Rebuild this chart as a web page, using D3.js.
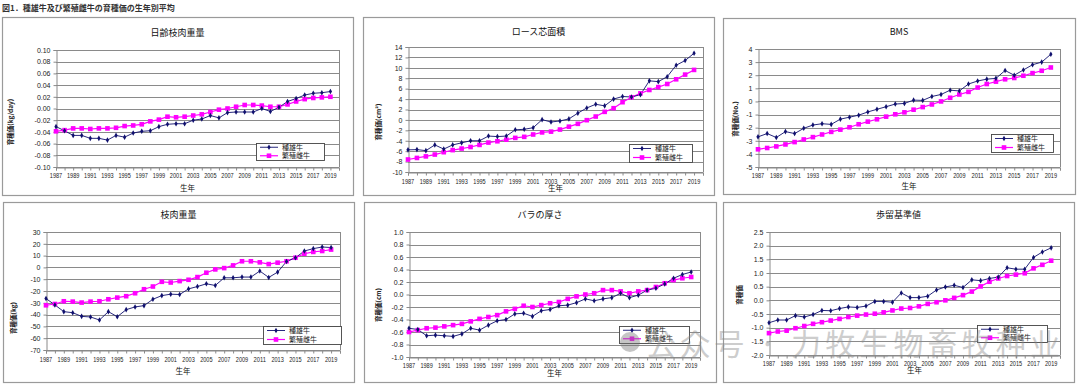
<!DOCTYPE html>
<html><head><meta charset="utf-8">
<script src="https://cdn.jsdelivr.net/npm/d3@7"></script>
<style>
html,body{margin:0;padding:0;background:#fff;}
svg text{font-family:"Liberation Sans","Noto Sans CJK JP",Arial,sans-serif;}
.jp{font-family:"Noto Sans CJK JP","Liberation Sans",sans-serif;}
</style></head>
<body>
<svg id="chart" width="1080" height="385"></svg>
<script>
// ---- data ----
const years = [1987,1988,1989,1990,1991,1992,1993,1994,1995,1996,1997,1998,1999,2000,2001,2002,2003,2004,2005,2006,2007,2008,2009,2010,2011,2012,2013,2014,2015,2016,2017,2018,2019];
const yearLabels = ["1987","1989","1991","1993","1995","1997","1999","2001","2003","2005","2007","2009","2011","2013","2015","2017","2019"];
const seriesNames = ["種雄牛","繁殖雌牛"];
const panelTitles = ["日齢枝肉重量","ロース芯面積","BMS","枝肉重量","バラの厚さ","歩留基準値"];
const yAxisTitles = ["育種価(kg/day)","育種価(cm²)","育種価(No.)","育種価(kg)","育種価(cm)","育種価"];
const xAxisTitle = "生年";
const figureCaption = "図1．種雄牛及び繁殖雌牛の育種価の生年別平均";

const dailyGainSire = [-0.031,-0.038,-0.046,-0.046,-0.051,-0.051,-0.054,-0.046,-0.049,-0.042,-0.039,-0.038,-0.031,-0.027,-0.026,-0.026,-0.020,-0.018,-0.012,-0.016,-0.007,-0.006,-0.006,-0.006,0.000,-0.005,0.002,0.012,0.017,0.023,0.026,0.027,0.029];
const dailyGainDam  = [-0.039,-0.037,-0.034,-0.034,-0.035,-0.034,-0.034,-0.033,-0.030,-0.029,-0.027,-0.022,-0.019,-0.014,-0.015,-0.014,-0.012,-0.010,-0.006,-0.002,0.000,0.003,0.006,0.006,0.005,0.003,0.003,0.007,0.012,0.016,0.018,0.019,0.020];
const ribeyeSire = [-5.75,-5.7,-5.9,-4.8,-5.6,-4.8,-4.4,-4.0,-4.0,-3.1,-3.2,-3.1,-1.9,-1.8,-1.5,0.05,-0.4,-0.2,0.2,1.3,2.3,3.0,2.7,4.0,4.5,4.4,4.85,7.5,7.35,8.3,10.5,11.4,12.8];
const ribeyeDam  = [-7.6,-7.3,-7.0,-6.65,-6.2,-5.8,-5.5,-5.2,-4.8,-4.35,-4.1,-3.8,-3.45,-3.25,-2.8,-2.4,-2.25,-1.85,-1.3,-0.75,-0.05,0.65,1.55,2.25,3.4,4.35,5.1,5.75,6.3,6.9,7.8,8.7,9.6];
const bmsSire = [-2.7,-2.45,-2.75,-2.3,-2.45,-2.05,-1.8,-1.7,-1.75,-1.35,-1.2,-1.05,-0.8,-0.6,-0.4,-0.2,-0.15,0.1,0.08,0.38,0.53,0.86,0.8,1.33,1.56,1.7,1.76,2.36,2.0,2.4,2.8,3.0,3.6];
const bmsDam  = [-3.65,-3.55,-3.43,-3.28,-3.1,-2.9,-2.72,-2.52,-2.32,-2.15,-1.97,-1.74,-1.54,-1.36,-1.16,-0.98,-0.83,-0.63,-0.43,-0.23,0.0,0.28,0.53,0.73,1.06,1.33,1.51,1.69,1.79,1.96,2.16,2.34,2.59];
const carcassSire = [-26.4,-31.8,-37.5,-38.4,-41.5,-42,-44.6,-37.5,-41.8,-35.8,-33.5,-32.4,-27,-23.9,-22.7,-23,-18.2,-16.2,-13.9,-15.3,-8.8,-8.8,-8.2,-8.2,-3.1,-8.5,-4,5.0,8.2,13.9,15.9,17.3,16.8];
const carcassDam  = [-32.1,-31,-28.7,-29,-29.8,-29,-28.7,-27,-25.6,-24.4,-21.9,-18.5,-16.2,-12.2,-12.8,-11.6,-10.5,-8.2,-4.5,-1.7,-0.6,1.7,5.2,5.2,4.3,2.8,4,5.2,8.2,11.6,13.1,13.9,15.1];
const ribSire = [-0.54,-0.56,-0.66,-0.65,-0.66,-0.67,-0.63,-0.54,-0.57,-0.49,-0.42,-0.40,-0.31,-0.30,-0.35,-0.26,-0.24,-0.18,-0.17,-0.13,-0.07,-0.10,-0.07,-0.05,0.02,-0.05,-0.01,0.07,0.10,0.17,0.26,0.32,0.36];
const ribDam  = [-0.60,-0.57,-0.54,-0.53,-0.51,-0.49,-0.47,-0.43,-0.39,-0.36,-0.33,-0.27,-0.23,-0.18,-0.20,-0.17,-0.14,-0.12,-0.07,-0.03,0.00,0.02,0.07,0.07,0.05,0.02,0.05,0.07,0.12,0.18,0.23,0.26,0.28];
const yieldSire = [-0.82,-0.72,-0.72,-0.56,-0.61,-0.52,-0.37,-0.38,-0.30,-0.24,-0.26,-0.21,-0.04,-0.04,-0.07,0.27,0.10,0.10,0.15,0.38,0.49,0.55,0.47,0.75,0.72,0.80,0.85,1.19,1.14,1.14,1.57,1.77,1.92];
const yieldDam  = [-1.20,-1.14,-1.11,-1.02,-0.94,-0.86,-0.80,-0.74,-0.68,-0.61,-0.56,-0.52,-0.49,-0.44,-0.37,-0.30,-0.28,-0.22,-0.13,-0.07,0.00,0.09,0.19,0.32,0.51,0.68,0.80,0.89,0.94,0.99,1.17,1.30,1.45];

const yTicks1 = [-0.10,-0.08,-0.06,-0.04,-0.02,0.00,0.02,0.04,0.06,0.08,0.10];
const yTicks2 = [-10,-8,-6,-4,-2,0,2,4,6,8,10,12,14];
const yTicks3 = [-5,-4,-3,-2,-1,0,1,2,3,4];
const yTicks4 = [-70,-60,-50,-40,-30,-20,-10,0,10,20,30];
const yTicks5 = [-1.0,-0.8,-0.6,-0.4,-0.2,0.0,0.2,0.4,0.6,0.8,1.0];
const yTicks6 = [-2.0,-1.5,-1.0,-0.5,0.0,0.5,1.0,1.5,2.0,2.5];
const watermark = "公众号 · 力牧生物畜牧种业";

// ---- layout (positions & styles) ----
const loc = d3.formatLocale({decimal:".",thousands:",",grouping:[3],currency:["",""],minus:"-"});
const panels = [
 {sire:dailyGainSire, dam:dailyGainDam, ticks:yTicks1, fmt:".2f", box:[2,17,353,195], plot:[56,50,339,167], titleY:36, yLabX:13, yLabY:122, xLabY:178, xTitleY:191, leg:[256,143,324,160]},
 {sire:ribeyeSire, dam:ribeyeDam, ticks:yTicks2, fmt:"d", box:[363,17,714,195], plot:[408,47,703,172], titleY:35, yLabX:381, yLabY:122, xLabY:184, xTitleY:191, leg:[629,144,692,162]},
 {sire:bmsSire, dam:bmsDam, ticks:yTicks3, fmt:"d", box:[723,18,1075,194], plot:[758,49,1060,167], titleY:35, yLabX:738, yLabY:119, xLabY:178, xTitleY:189, leg:[991,134,1053,152]},
 {sire:carcassSire, dam:carcassDam, ticks:yTicks4, fmt:"d", box:[3,202,354,382], plot:[46,232,340,350], titleY:218, yLabX:16, yLabY:318, xLabY:362, xTitleY:374, leg:[263,326,341,344]},
 {sire:ribSire, dam:ribDam, ticks:yTicks5, fmt:".1f", box:[364,202,716,382], plot:[409,232,700,357], titleY:218, yLabX:381, yLabY:305, xLabY:368, xTitleY:376, leg:[619,326,689,343]},
 {sire:yieldSire, dam:yieldDam, ticks:yTicks6, fmt:".1f", box:[723,202,1074,382], plot:[769,232,1060,355], titleY:218, yLabX:742, yLabY:295, xLabY:366, xTitleY:373, leg:[977,325,1047,342]}
];
const SIRE = "#10106e", DAM = "#ff00ff", GRID = "#8a8a8a";

const svg = d3.select("#chart");

svg.append("text").attr("class","jp").attr("x",2).attr("y",11)
  .attr("font-size",8).attr("font-weight","bold").attr("fill","#333").text(figureCaption);

panels.forEach((p,i)=>{
  const g = svg.append("g");
  const [bx0,by0,bx1,by1] = p.box;
  g.append("rect").attr("x",bx0+0.5).attr("y",by0+0.5).attr("width",bx1-bx0).attr("height",by1-by0)
    .attr("fill","#fff").attr("stroke","#9a9a9a").attr("stroke-width",1.2);
  const [x0,y0,x1,y1] = p.plot;
  const x = d3.scaleLinear().domain([1987,2020]).range([x0,x1]);
  const y = d3.scaleLinear().domain([p.ticks[0], p.ticks[p.ticks.length-1]]).range([y1,y0]);
  // grid
  g.selectAll(".grid").data(p.ticks).join("line")
    .attr("x1",x0).attr("x2",x1).attr("y1",d=>Math.round(y(d))+0.5).attr("y2",d=>Math.round(y(d))+0.5)
    .attr("stroke",GRID).attr("stroke-width",1);
  g.append("line").attr("x1",x1+0.5).attr("x2",x1+0.5).attr("y1",y0).attr("y2",y1).attr("stroke",GRID);
  // y axis
  const fmt = loc.format(p.fmt);
  const ya = g.append("g").attr("transform",`translate(${x0+0.5},0)`)
    .call(d3.axisLeft(y).tickValues(p.ticks).tickSize(3).tickPadding(3).tickFormat(fmt));
  ya.select(".domain").attr("stroke",GRID);
  ya.selectAll(".tick line").attr("stroke",GRID);
  ya.selectAll("text").attr("font-size",7).attr("fill","#222");
  // x axis
  const xa = g.append("g").attr("transform",`translate(0,${Math.round(y1)+0.5})`)
    .call(d3.axisBottom(x).tickValues(years.concat([2020])).tickSize(3).tickFormat(""));
  xa.select(".domain").attr("stroke",GRID);
  xa.selectAll(".tick line").attr("stroke",GRID);
  g.selectAll(".xl").data(yearLabels).join("text")
    .attr("x",d=>x(+d)).attr("y",p.xLabY).attr("text-anchor","middle")
    .attr("font-size",7).attr("textLength",12.4).attr("lengthAdjust","spacingAndGlyphs")
    .attr("fill","#222").text(d=>d);
  // titles
  g.append("text").attr("class","jp").attr("x",(bx0+bx1)/2).attr("y",p.titleY).attr("text-anchor","middle")
    .attr("font-size",9).attr("fill","#111").text(panelTitles[i]);
  g.append("text").attr("class","jp").attr("x",(x0+x1)/2 + (i%3===0?-10:0)).attr("y",p.xTitleY).attr("text-anchor","middle")
    .attr("font-size",7.5).attr("fill","#111").text(xAxisTitle);
  g.append("text").attr("class","jp").attr("transform",`translate(${p.yLabX},${p.yLabY}) rotate(-90)`)
    .attr("text-anchor","middle").attr("font-size",6.5).attr("font-weight","bold").attr("fill","#222").text(yAxisTitles[i]);
  // lines
  const line = d3.line().x((d,k)=>x(years[k])).y(d=>y(d));
  g.append("path").attr("d",line(p.dam)).attr("fill","none").attr("stroke",DAM).attr("stroke-width",1.2);
  g.append("path").attr("d",line(p.sire)).attr("fill","none").attr("stroke",SIRE).attr("stroke-width",0.9);
  g.selectAll(".dm").data(p.dam).join("rect")
    .attr("x",(d,k)=>x(years[k])-2.3).attr("y",d=>y(d)-2.3).attr("width",4.6).attr("height",4.6).attr("fill",DAM);
  g.selectAll(".sm").data(p.sire).join("path")
    .attr("d",d3.symbol(d3.symbolDiamond,9))
    .attr("transform",(d,k)=>`translate(${x(years[k])},${y(d)})`).attr("fill",SIRE);
  // legend
  const [lx0,ly0,lx1,ly1] = p.leg;
  const lg = g.append("g");
  lg.append("rect").attr("x",lx0+0.5).attr("y",ly0+0.5).attr("width",lx1-lx0).attr("height",ly1-ly0)
    .attr("fill","#fff").attr("stroke","#444").attr("stroke-width",0.9);
  const rowH = (ly1-ly0)/2;
  seriesNames.forEach((nm,j)=>{
    const cy = ly0 + rowH*(j+0.5);
    const col = j===0?SIRE:DAM;
    lg.append("line").attr("x1",lx0+4).attr("x2",lx0+22).attr("y1",cy).attr("y2",cy).attr("stroke",col).attr("stroke-width",j===0?0.9:1.2);
    if(j===0) lg.append("path").attr("d",d3.symbol(d3.symbolDiamond,9)).attr("transform",`translate(${lx0+13},${cy})`).attr("fill",col);
    else lg.append("rect").attr("x",lx0+13-2.3).attr("y",cy-2.3).attr("width",4.6).attr("height",4.6).attr("fill",col);
    lg.append("text").attr("class","jp").attr("x",lx0+26).attr("y",cy+2.5).attr("font-size",7).attr("fill","#222").text(nm);
  });
});

// watermark
const wm = svg.append("g").attr("opacity",0.42);
wm.append("circle").attr("cx",630).attr("cy",342).attr("r",10).attr("fill","#777");
wm.append("text").attr("class","jp").attr("x",646).attr("y",355).attr("font-size",30)
  .attr("textLength",414).attr("lengthAdjust","spacing").attr("fill","#8a8a8a").text(watermark);
</script>
</body></html>
